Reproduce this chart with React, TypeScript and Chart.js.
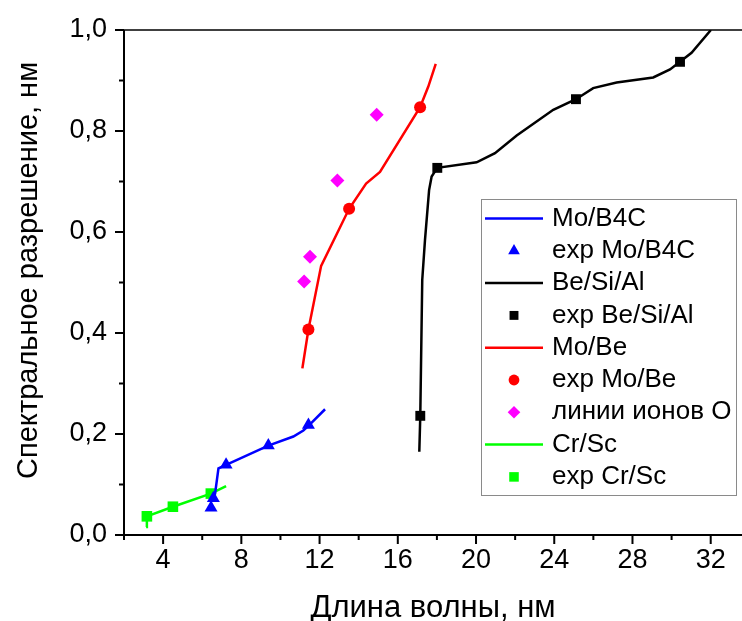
import React, { useEffect, useRef } from 'react';
import { Chart, registerables } from 'chart.js';

Chart.register(...registerables);

// ---- data ----
const moB4cLineX = [6.57, 6.66, 6.83, 7.22, 9.38, 10.66, 11.17, 11.43, 12.28];
const moB4cLineY = [0.073, 0.083, 0.132, 0.139, 0.177, 0.195, 0.207, 0.216, 0.249];
const moB4cExpX = [6.45, 6.57, 7.22, 9.38, 11.43];
const moB4cExpY = [0.054, 0.073, 0.139, 0.177, 0.218];

const beSiAlLineX = [17.1, 17.15, 17.25, 17.39, 17.6, 17.73, 18.02, 20.03, 20.97, 22.08, 23.95, 25.11, 25.99, 27.19, 29.06, 29.92, 30.43, 31.02, 32.01];
const beSiAlLineY = [0.165, 0.236, 0.505, 0.584, 0.683, 0.71, 0.727, 0.738, 0.756, 0.791, 0.842, 0.863, 0.885, 0.896, 0.906, 0.922, 0.937, 0.955, 1.0];
const beSiAlExpX = [17.15, 18.02, 25.11, 30.43];
const beSiAlExpY = [0.236, 0.727, 0.863, 0.937];

const moBeLineX = [11.12, 11.43, 12.08, 13.51, 14.38, 15.09, 17.14, 17.56, 17.94];
const moBeLineY = [0.33, 0.407, 0.533, 0.646, 0.696, 0.719, 0.847, 0.888, 0.933];
const moBeExpX = [11.43, 13.51, 17.14];
const moBeExpY = [0.407, 0.646, 0.847];

const oIonX = [11.21, 11.51, 12.91, 14.92];
const oIonY = [0.502, 0.551, 0.702, 0.832];

const crScLineX = [3.13, 3.17, 4.5, 6.44, 7.22];
const crScLineY = [0.016, 0.037, 0.056, 0.082, 0.097];
const crScExpX = [3.17, 4.5, 6.44];
const crScExpY = [0.037, 0.056, 0.082];

const seriesLabels = [
  'Mo/B4C',
  'exp Mo/B4C',
  'Be/Si/Al',
  'exp Be/Si/Al',
  'Mo/Be',
  'exp Mo/Be',
  'линии ионов O',
  'Cr/Sc',
  'exp Cr/Sc',
];

const xTitle = 'Длина волны, нм';
const yTitle = 'Спектральное разрешение, нм';

const FONT = '"Liberation Sans", Arial, sans-serif';

const pts = (xs: number[], ys: number[]) => xs.map((x, i) => ({ x, y: ys[i] }));

function drawMarker(ctx: CanvasRenderingContext2D, style: string, x: number, y: number, r: number, color: string) {
  ctx.fillStyle = color;
  ctx.beginPath();
  if (style === 'triangle') {
    for (let k = 0; k < 3; k++) {
      const a = (k * 2 * Math.PI) / 3;
      const px = x + Math.sin(a) * r;
      const py = y - Math.cos(a) * r;
      if (k === 0) ctx.moveTo(px, py);
      else ctx.lineTo(px, py);
    }
    ctx.closePath();
  } else if (style === 'rect') {
    const s = r / Math.SQRT2;
    ctx.rect(x - s, y - s, 2 * s, 2 * s);
  } else if (style === 'rectRot') {
    ctx.moveTo(x, y - r);
    ctx.lineTo(x + r, y);
    ctx.lineTo(x, y + r);
    ctx.lineTo(x - r, y);
    ctx.closePath();
  } else {
    ctx.arc(x, y, r, 0, Math.PI * 2);
  }
  ctx.fill();
}

const axesPlugin = {
  id: 'axesTicks',
  afterDraw(chart: any) {
    const { ctx, chartArea: a, scales } = chart;
    const xs = scales.x;
    const ys = scales.y;
    ctx.save();
    ctx.strokeStyle = '#000';
    ctx.lineWidth = 2;
    ctx.beginPath();
    ctx.moveTo(a.left, a.top);
    ctx.lineTo(a.left, a.bottom);
    ctx.lineTo(a.right, a.bottom);
    ctx.stroke();
    ctx.lineWidth = 1.5;
    ctx.beginPath();
    ctx.moveTo(a.left, a.top);
    ctx.lineTo(a.right, a.top);
    ctx.stroke();
    ctx.lineWidth = 2;
    ctx.beginPath();
    xs.ticks.forEach((t: any) => {
      const px = xs.getPixelForValue(t.value);
      const major = Math.round(t.value) % 4 === 0;
      ctx.moveTo(px, a.bottom);
      ctx.lineTo(px, a.bottom + (major ? 9 : 5));
    });
    ys.ticks.forEach((t: any) => {
      const py = ys.getPixelForValue(t.value);
      const major = Math.round(t.value * 10) % 2 === 0;
      ctx.moveTo(a.left, py);
      ctx.lineTo(a.left - (major ? 9 : 5), py);
    });
    ctx.stroke();
    ctx.restore();
  },
};

const legendPlugin = {
  id: 'boxLegend',
  afterDraw(chart: any) {
    const ctx: CanvasRenderingContext2D = chart.ctx;
    const bx = 481;
    const by = 199;
    const bw = 255;
    const bh = 296;
    ctx.save();
    ctx.fillStyle = '#fff';
    ctx.fillRect(bx, by, bw, bh);
    ctx.strokeStyle = '#8a8a8a';
    ctx.lineWidth = 1;
    ctx.strokeRect(bx + 0.5, by + 0.5, bw, bh);
    chart.data.datasets.forEach((ds: any, i: number) => {
      const cy = 218.5 + i * 32.3;
      if (ds.showLine) {
        ctx.strokeStyle = ds.borderColor;
        ctx.lineWidth = 2.5;
        ctx.beginPath();
        ctx.moveTo(485, cy);
        ctx.lineTo(543, cy);
        ctx.stroke();
      } else {
        drawMarker(ctx, ds.pointStyle, 514, cy, ds.pointRadius * 0.9, ds.pointBackgroundColor);
      }
      ctx.fillStyle = '#000';
      ctx.font = `26px ${FONT}`;
      ctx.textBaseline = 'middle';
      ctx.textAlign = 'left';
      ctx.fillText(ds.label, 552, cy);
    });
    ctx.restore();
  },
};

const lineDs = (label: string, data: any[], color: string) => ({
  label,
  data,
  showLine: true,
  borderColor: color,
  backgroundColor: color,
  borderWidth: 2.5,
  pointRadius: 0,
  tension: 0,
});

const markDs = (label: string, data: any[], color: string, style: string, r: number) => ({
  label,
  data,
  showLine: false,
  pointStyle: style,
  pointRadius: r,
  pointBackgroundColor: color,
  pointBorderColor: color,
  pointBorderWidth: 0,
  backgroundColor: color,
  borderColor: color,
});

export default function App() {
  const ref = useRef<HTMLCanvasElement>(null);
  useEffect(() => {
    if (!ref.current) return;
    const chart = new Chart(ref.current, {
      type: 'scatter',
      data: {
        datasets: [
          lineDs(seriesLabels[0], pts(moB4cLineX, moB4cLineY), '#0000ff'),
          markDs(seriesLabels[1], pts(moB4cExpX, moB4cExpY), '#0000ff', 'triangle', 7.5),
          lineDs(seriesLabels[2], pts(beSiAlLineX, beSiAlLineY), '#000000'),
          markDs(seriesLabels[3], pts(beSiAlExpX, beSiAlExpY), '#000000', 'rect', 7),
          lineDs(seriesLabels[4], pts(moBeLineX, moBeLineY), '#ff0000'),
          markDs(seriesLabels[5], pts(moBeExpX, moBeExpY), '#ff0000', 'circle', 6),
          markDs(seriesLabels[6], pts(oIonX, oIonY), '#ff00ff', 'rectRot', 7),
          lineDs(seriesLabels[7], pts(crScLineX, crScLineY), '#00ff00'),
          markDs(seriesLabels[8], pts(crScExpX, crScExpY), '#00ff00', 'rect', 7.5),
        ] as any,
      },
      options: {
        animation: false,
        responsive: false,
        maintainAspectRatio: false,
        layout: { autoPadding: false, padding: { top: 30, left: 0, right: 0, bottom: 0 } },
        plugins: { legend: { display: false }, tooltip: { enabled: false } },
        scales: {
          x: {
            type: 'linear',
            min: 2,
            max: 33.6,
            afterFit: (s: any) => {
              s.height = 86;
              s.paddingLeft = 0;
              s.paddingRight = 0;
            },
            grid: { display: false, drawTicks: true, tickLength: 9 },
            border: { display: false },
            ticks: {
              stepSize: 2,
              includeBounds: false,
              autoSkip: false,
              maxRotation: 0,
              padding: 0,
              color: '#000',
              font: { family: FONT, size: 27 },
              callback: (v: any) => (Math.round(v) % 4 === 0 ? String(Math.round(v)) : ''),
            },
            title: {
              display: true,
              text: xTitle,
              color: '#000',
              font: { family: FONT, size: 31, lineHeight: 0.8 },
              padding: 0,
            },
          },
          y: {
            type: 'linear',
            min: 0,
            max: 1,
            afterFit: (s: any) => {
              s.width = 124;
              s.paddingTop = 0;
              s.paddingBottom = 0;
            },
            grid: { display: false, drawTicks: true, tickLength: 9 },
            border: { display: false },
            ticks: {
              stepSize: 0.1,
              includeBounds: false,
              autoSkip: false,
              padding: 8,
              color: '#000',
              font: { family: FONT, size: 27 },
              callback: (v: any) => {
                const k = Math.round(v * 10);
                return k % 2 === 0 ? (k / 10).toFixed(1).replace('.', ',') : '';
              },
            },
            title: {
              display: true,
              text: '   ' + yTitle,
              color: '#000',
              font: { family: FONT, size: 29 },
              padding: { top: 12, bottom: 0 },
            },
          },
        },
      } as any,
      plugins: [axesPlugin, legendPlugin],
    });
    return () => chart.destroy();
  }, []);
  return (
    <div style={{ position: 'absolute', left: 0, top: 0, width: 742, height: 621, background: '#fff' }}>
      <canvas ref={ref} width={742} height={621} style={{ width: 742, height: 621, display: 'block' }} />
    </div>
  );
}
